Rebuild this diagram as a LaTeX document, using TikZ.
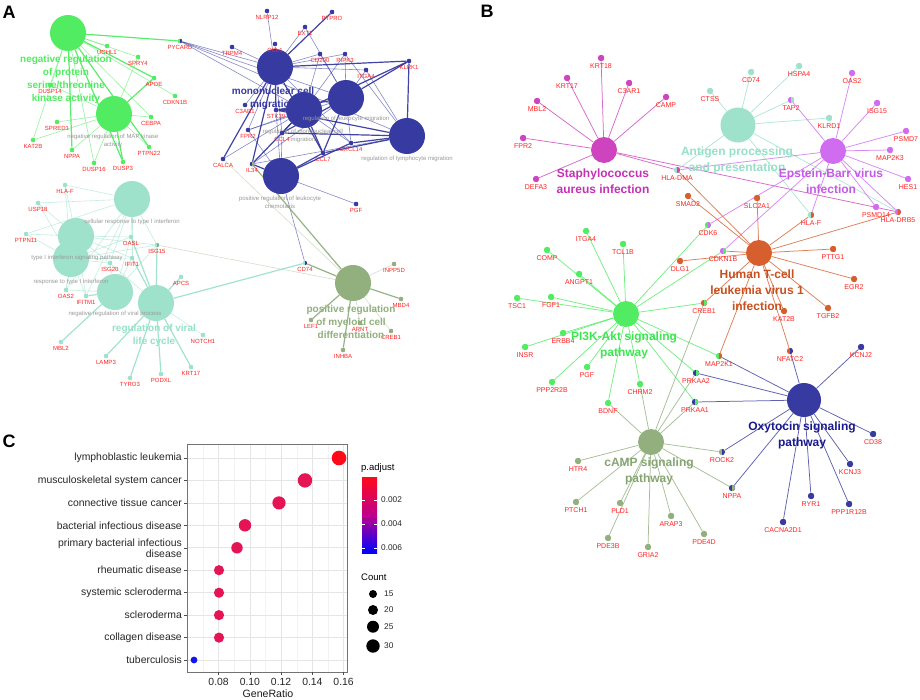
\documentclass[tikz,border=0pt]{standalone}
\usepackage{fontspec}
\setmainfont{Liberation Sans}
\definecolor{cgr}{RGB}{82,236,98}
\definecolor{cnv}{RGB}{55,58,160}
\definecolor{ctl}{RGB}{158,226,204}
\definecolor{col}{RGB}{145,176,125}
\definecolor{cmg}{RGB}{206,68,190}
\definecolor{cpu}{RGB}{207,108,240}
\definecolor{cor}{RGB}{214,95,45}
\definecolor{cred}{RGB}{255,35,35}
\definecolor{tmg}{RGB}{195,50,180}
\definecolor{tpu}{RGB}{196,90,230}
\definecolor{tor}{RGB}{200,80,30}
\definecolor{tnv}{RGB}{25,25,140}
\definecolor{tgr}{RGB}{60,230,80}
\definecolor{tol}{RGB}{135,165,115}
\definecolor{ttl}{RGB}{150,225,200}
\definecolor{pred}{RGB}{255,10,25}
\definecolor{pcr}{RGB}{228,20,85}
\definecolor{pbl}{RGB}{20,20,240}
\definecolor{pmid}{RGB}{190,0,140}
\pgfdeclarelayer{edges}
\pgfsetlayers{edges,main}
\newcommand\ga[6]{\node[dotA={#4}{#5},label={[labA]below:#6}] (#1) at (#2,#3) {};}
\newcommand\gb[6]{\node[dotB={#4}{#5},label={[labB]below:#6}] (#1) at (#2,#3) {};}
\newcommand\fan[3]{\foreach \tg in {#3}{\draw[#1] (#2) -- (\tg);}}
\tikzset{
  dotA/.style 2 args={circle,inner sep=0pt,minimum size=4.6pt,fill=#1,
    path picture={\fill[#2] (path picture bounding box.south) rectangle (path picture bounding box.north east);}},
  dotB/.style 2 args={circle,inner sep=0pt,minimum size=6.4pt,fill=#1,
    path picture={\fill[#2] (path picture bounding box.south) rectangle (path picture bounding box.north east);}},
  labA/.style={font=\fontsize{6}{6}\selectfont,text=cred,inner sep=0.3pt,label distance=1.2pt},
  labB/.style={font=\fontsize{7}{7}\selectfont,text=cred,inner sep=0.3pt,label distance=1.6pt},
  catA/.style={circle,inner sep=0pt,minimum size=36pt,fill=#1},
  catB/.style={circle,inner sep=0pt,minimum size=26pt,fill=#1},
  btA/.style={font=\bfseries\fontsize{10}{13}\selectfont,text=#1,align=center,inner sep=0pt},
  btB/.style={font=\bfseries\fontsize{12}{16}\selectfont,text=#1,align=center,inner sep=0pt},
  glab/.style={font=\fontsize{6}{8}\selectfont,text=black!40,align=center,inner sep=0pt},
  ed/.style={draw=#1,line width=0.6pt,draw opacity=0.6},
  edt/.style={draw=#1,line width=1.2pt,draw opacity=0.95},
  edl/.style={draw=#1,line width=0.6pt,draw opacity=0.4},
  eb/.style={draw=#1,line width=0.75pt,draw opacity=0.8},
  ylab/.style={anchor=east,font=\fontsize{10.4}{11}\selectfont,text=black!85,align=right,inner sep=0pt},
  plet/.style={font=\bfseries\fontsize{18}{18}\selectfont,inner sep=0pt}
}
\begin{document}
\begin{tikzpicture}[x=1pt,y=-1pt]
\begin{pgfonlayer}{edges}
\fill[white] (0,0) rectangle (920,699);
\end{pgfonlayer}
\useasboundingbox (0,0) rectangle (920,699);

% ================= Panel A =================
\node[plet] (letA) at (9,12) {A};
\node[catA=cgr] (aG1) at (68,33) {};
\node[catA=cgr] (aG2) at (114,114) {};
\node[catA=cnv] (aB1) at (275,67) {};
\node[catA=cnv] (aB2) at (346,98) {};
\node[catA=cnv] (aB3) at (304,110) {};
\node[catA=cnv] (aB4) at (407,136) {};
\node[catA=cnv] (aB5) at (281,176) {};
\node[catA=ctl] (aT1) at (132,199) {};
\node[catA=ctl] (aT2) at (76,236) {};
\node[catA=ctl] (aT3) at (71,259) {};
\node[catA=ctl] (aT4) at (115,292) {};
\node[catA=ctl] (aT5) at (156,303) {};
\node[catA=col] (aO1) at (353,283) {};

\node[glab] (gl1) at (113,141) {negative regulation of MAP kinase\\activity};
\node[glab] (gl2) at (346,119) {regulation of leukocyte migration};
\node[glab] (gl3) at (303,135.5) {regulation of mononuclear cell\\migration};
\node[glab] (gl4) at (407,159) {regulation of lymphocyte migration};
\node[glab] (gl5) at (280,202) {positive regulation of leukocyte\\chemotaxis};
\node[glab] (gl6) at (132,222) {cellular response to type I interferon};
\node[glab] (gl7) at (77,258) {type I interferon signaling pathway};
\node[glab] (gl8) at (71,282) {response to type I interferon};
\node[glab] (gl9) at (115,314) {negative regulation of viral process};

\ga{aUCHL1}{107}{46}{cgr}{cgr}{UCHL1}
\ga{aSPRY4}{138}{57}{cgr}{cgr}{SPRY4}
\ga{aAPOE}{154}{78}{cgr}{cgr}{APOE}
\ga{aCDKN1B}{175}{96}{cgr}{cgr}{CDKN1B}
\ga{aCEBPA}{151}{117}{cgr}{cgr}{CEBPA}
\ga{aDUSP14}{50}{85}{cgr}{cgr}{DUSP14}
\ga{aSPRED1}{57}{122}{cgr}{cgr}{SPRED1}
\ga{aKAT2B}{33}{140}{cgr}{cgr}{KAT2B}
\ga{aNPPA}{72}{150}{cgr}{cgr}{NPPA}
\ga{aDUSP16}{94}{163}{cgr}{cgr}{DUSP16}
\ga{aDUSP3}{123}{162}{cgr}{cgr}{DUSP3}
\ga{aPTPN22}{149}{147}{cgr}{cgr}{PTPN22}
\ga{aPYCARD}{180}{41}{cgr}{cnv}{PYCARD}
\ga{aNLRP12}{267}{11}{cnv}{cnv}{NLRP12}
\ga{aPTPRO}{332}{12}{cnv}{cnv}{PTPRO}
\ga{aEXT1}{305}{27}{cnv}{cnv}{EXT1}
\ga{aTRPM4}{232}{47}{cnv}{cnv}{TRPM4}
\ga{aCCL1}{275}{44}{cnv}{cnv}{CCL1}
\ga{aCD200}{320}{54}{cnv}{cnv}{CD200}
\ga{aRIPK3}{345}{54}{cnv}{cnv}{RIPK3}
\ga{aKLRK1}{409}{61}{cnv}{cnv}{KLRK1}
\ga{aITGA4}{366}{70}{cnv}{cnv}{ITGA4}
\ga{aC3AR1}{245}{105}{cnv}{cnv}{C3AR1}
\ga{aSTK39}{276}{110}{cnv}{cnv}{STK39}
\ga{aFPR2}{248}{130}{cnv}{cnv}{FPR2}
\ga{aCCL4}{282}{133}{cnv}{cnv}{CCL4}
\ga{aCXCL14}{351}{143}{cnv}{cnv}{CXCL14}
\ga{aCCL7}{323}{153}{cnv}{cnv}{CCL7}
\ga{aCALCA}{223}{159}{cnv}{cnv}{CALCA}
\ga{aIL34}{252}{164}{cnv}{col}{IL34}
\ga{aPGF}{356}{204}{cnv}{cnv}{PGF}
\ga{aCD74}{305}{263}{ctl}{cnv}{CD74}
\ga{aHLAF}{65}{185}{ctl}{ctl}{HLA-F}
\ga{aUSP18}{38}{203}{ctl}{ctl}{USP18}
\ga{aPTPN11}{26}{234}{ctl}{ctl}{PTPN11}
\ga{aOASL}{131}{237}{ctl}{ctl}{OASL}
\ga{aISG15}{157}{245}{ctl}{col}{ISG15}
\ga{aIFIT1}{132}{258}{ctl}{ctl}{IFIT1}
\ga{aISG20}{110}{263}{ctl}{ctl}{ISG20}
\ga{aAPCS}{181}{277}{ctl}{ctl}{APCS}
\ga{aOAS2}{66}{290}{ctl}{ctl}{OAS2}
\ga{aIFITM1}{86}{296}{ctl}{ctl}{IFITM1}
\ga{aMBL2}{61}{342}{ctl}{ctl}{MBL2}
\ga{aLAMP3}{106}{356}{ctl}{ctl}{LAMP3}
\ga{aTYRO3}{130}{378}{ctl}{ctl}{TYRO3}
\ga{aPODXL}{161}{374}{ctl}{ctl}{PODXL}
\ga{aKRT17}{191}{367}{ctl}{ctl}{KRT17}
\ga{aNOTCH1}{203}{335}{ctl}{ctl}{NOTCH1}
\ga{aINPP5D}{394}{264}{col}{col}{INPP5D}
\ga{aMBD4}{401}{299}{col}{col}{MBD4}
\ga{aLEF1}{311}{320}{col}{col}{LEF1}
\ga{aARNT}{360}{323}{col}{col}{ARNT}
\ga{aCREB1}{391}{331}{col}{col}{CREB1}
\ga{aINHBA}{343}{350}{col}{col}{INHBA}

\node[btA=cgr] (aG1t) at (66,79.5) {negative regulation\\of protein\\serine/threonine\\kinase activity};
\node[btA=cnv] (aB1t) at (273,98.5) {mononuclear cell\\migration};
\node[btA=ttl] (aT5t) at (154,335.5) {regulation of viral\\life cycle};
\node[btA=col] (aO1t) at (351,322) {positive regulation\\of myeloid cell\\differentiation};

\begin{pgfonlayer}{edges}
\fan{edt=cgr}{aG1}{aPYCARD,aAPOE,aNPPA,aPTPN22,aDUSP3}
\fan{ed=cgr}{aG1}{aUCHL1,aSPRY4,aCDKN1B,aCEBPA,aDUSP16,aKAT2B,aDUSP14}
\fan{edt=cgr}{aG2}{aAPOE,aDUSP3}
\fan{ed=cgr}{aG2}{aSPRY4,aSPRED1,aDUSP14,aKAT2B,aNPPA,aDUSP16,aPTPN22,aCEBPA}
\fan{ed=cnv}{aB1}{aPYCARD,aNLRP12,aEXT1,aTRPM4,aCCL1,aCD200,aRIPK3,aITGA4,aC3AR1,aFPR2,aCCL4,aCXCL14}
\fan{edt=cnv}{aB1}{aPTPRO,aKLRK1,aCALCA,aIL34,aSTK39,aCCL7}
\fan{ed=cnv}{aB2}{aPYCARD,aEXT1,aCD200,aRIPK3,aITGA4,aFPR2,aCXCL14,aIL34}
\fan{edt=cnv}{aB2}{aKLRK1,aSTK39,aCCL7,aCCL4}
\fan{ed=cnv}{aB3}{aPYCARD,aCD200,aRIPK3,aFPR2,aCXCL14,aCALCA}
\fan{edt=cnv}{aB3}{aKLRK1,aSTK39,aCCL4,aCCL7,aIL34}
\fan{ed=cnv}{aB4}{aPYCARD,aRIPK3,aITGA4,aIL34}
\fan{edt=cnv}{aB4}{aKLRK1,aSTK39,aCCL4,aCCL7,aCXCL14}
\fan{ed=cnv}{aB5}{aFPR2,aCCL4,aPGF,aCD74,aSTK39}
\fan{edt=cnv}{aB5}{aCCL7,aCXCL14,aIL34}
\fan{edt=col}{aO1}{aIL34,aCD74,aMBD4,aLEF1,aINHBA}
\fan{edl=col}{aO1}{aCALCA,aISG15,aINPP5D,aARNT,aCREB1}
\fan{edt=ctl}{aT5}{aCD74,aAPCS,aKRT17,aPODXL,aTYRO3,aLAMP3,aIFIT1,aOASL,aISG15}
\fan{ed=ctl}{aT5}{aNOTCH1,aISG20}
\fan{edt=ctl}{aT4}{aMBL2,aIFITM1}
\fan{ed=ctl}{aT4}{aOAS2,aISG20,aIFIT1,aOASL,aISG15}
\fan{ed=ctl}{aT1}{aHLAF,aUSP18,aPTPN11,aOASL,aISG15,aIFIT1,aISG20,aOAS2,aIFITM1}
\fan{ed=ctl}{aT2}{aHLAF,aUSP18,aPTPN11,aOASL,aISG15,aIFIT1,aISG20,aOAS2,aIFITM1}
\fan{ed=ctl}{aT3}{aHLAF,aUSP18,aPTPN11,aOASL,aISG15,aIFIT1,aISG20,aOAS2,aIFITM1}
\end{pgfonlayer}

% ================= Panel B =================
\node[plet] (letB) at (487,11) {B};
\node[catB=cmg] (bS) at (604,150) {};
\node[circle,inner sep=0pt,minimum size=35pt,fill=ctl] (bA) at (738,125) {};
\node[catB=cpu] (bE) at (833,151) {};
\node[catB=cgr] (bP) at (626,314) {};
\node[catB=cor] (bH) at (759,253) {};
\node[circle,inner sep=0pt,minimum size=34pt,fill=cnv] (bX) at (804,400) {};
\node[catB=col] (bM) at (651,442) {};

\gb{bKRT18}{601}{58}{cmg}{cmg}{KRT18}
\gb{bKRT17}{567}{78}{cmg}{cmg}{KRT17}
\gb{bC3AR1}{629}{83}{cmg}{cmg}{C3AR1}
\gb{bMBL2}{537}{101}{cmg}{cmg}{MBL2}
\gb{bCAMP}{666}{97}{cmg}{cmg}{CAMP}
\gb{bFPR2}{523}{138}{cmg}{cmg}{FPR2}
\gb{bDEFA3}{536}{179}{cmg}{cmg}{DEFA3}
\gb{bHLADMA}{677}{170}{ctl}{cmg}{HLA-DMA}
\gb{bCTSS}{710}{91}{ctl}{ctl}{CTSS}
\gb{bCD74}{751}{72}{ctl}{ctl}{CD74}
\gb{bHSPA4}{799}{66}{ctl}{ctl}{HSPA4}
\gb{bKLRD1}{829}{118}{ctl}{ctl}{KLRD1}
\gb{bTAP2}{791}{100}{cpu}{ctl}{TAP2}
\gb{bOAS2}{852}{73}{cpu}{cpu}{OAS2}
\gb{bISG15}{877}{103}{cpu}{cpu}{ISG15}
\gb{bPSMD7}{906}{131}{cpu}{cpu}{PSMD7}
\gb{bMAP2K3}{890}{150}{cpu}{cpu}{MAP2K3}
\gb{bHES1}{908}{179}{cpu}{cpu}{HES1}
\gb{bPSMD14}{876}{207}{cpu}{cpu}{PSMD14}
\gb{bHLADRB5}{898}{212}{cpu}{cor}{HLA-DRB5}
\gb{bHLAF}{811}{215}{ctl}{cor}{HLA-F}
\gb{bSLC2A1}{757}{198}{cor}{cor}{SLC2A1}
\gb{bSMAD2}{688}{196}{cor}{cor}{SMAD2}
\gb{bCDK6}{708}{225}{cgr}{cpu}{CDK6}
\gb{bCDKN1B}{723}{251}{cpu}{cgr}{CDKN1B}
\gb{bDLG1}{680}{261}{cor}{cor}{DLG1}
\gb{bPTTG1}{833}{249}{cor}{cor}{PTTG1}
\gb{bEGR2}{854}{279}{cor}{cor}{EGR2}
\gb{bTGFB2}{828}{308}{cor}{cor}{TGFB2}
\gb{bKAT2B}{784}{311}{cor}{cor}{KAT2B}
\gb{bNFATC2}{790}{351}{cor}{cnv}{NFATC2}
\gb{bMAP2K1}{719}{356}{cgr}{cor}{MAP2K1}
\gb{bCREB1}{704}{303}{cor}{cgr}{CREB1}
\gb{bITGA4}{586}{231}{cgr}{cgr}{ITGA4}
\gb{bTCL1B}{623}{244}{cgr}{cgr}{TCL1B}
\gb{bCOMP}{547}{250}{cgr}{cgr}{COMP}
\gb{bANGPT1}{579}{274}{cgr}{cgr}{ANGPT1}
\gb{bTSC1}{517}{298}{cgr}{cgr}{TSC1}
\gb{bFGF1}{551}{297}{cgr}{cgr}{FGF1}
\gb{bERBB4}{563}{333}{cgr}{cgr}{ERBB4}
\gb{bINSR}{525}{347}{cgr}{cgr}{INSR}
\gb{bPGF}{587}{367}{cgr}{cgr}{PGF}
\gb{bPPP2R2B}{552}{382}{cgr}{cgr}{PPP2R2B}
\gb{bCHRM2}{640}{384}{cgr}{cgr}{CHRM2}
\gb{bBDNF}{608}{403}{cgr}{cgr}{BDNF}
\gb{bPRKAA2}{696}{373}{cnv}{cgr}{PRKAA2}
\gb{bPRKAA1}{695}{402}{cnv}{cgr}{PRKAA1}
\gb{bKCNJ2}{861}{347}{cnv}{cnv}{KCNJ2}
\gb{bCD38}{873}{434}{cnv}{cnv}{CD38}
\gb{bKCNJ3}{850}{464}{cnv}{cnv}{KCNJ3}
\gb{bPPP1R12B}{849}{504}{cnv}{cnv}{PPP1R12B}
\gb{bRYR1}{811}{496}{cnv}{cnv}{RYR1}
\gb{bCACNA2D1}{783}{522}{cnv}{cnv}{CACNA2D1}
\gb{bROCK2}{722}{452}{col}{cnv}{ROCK2}
\gb{bNPPA}{732}{488}{cnv}{col}{NPPA}
\gb{bHTR4}{578}{461}{col}{col}{HTR4}
\gb{bPTCH1}{576}{502}{col}{col}{PTCH1}
\gb{bPLD1}{620}{503}{col}{col}{PLD1}
\gb{bPDE3B}{608}{538}{col}{col}{PDE3B}
\gb{bGRIA2}{648}{547}{col}{col}{GRIA2}
\gb{bARAP3}{671}{516}{col}{col}{ARAP3}
\gb{bPDE4D}{704}{534}{col}{col}{PDE4D}

\node[btB=tmg] (bSt) at (603,181) {Staphylococcus\\aureus infection};
\node[btB=ttl] (bAt) at (737,160) {Antigen processing\\and presentation};
\node[btB=tpu] (bEt) at (831,181) {Epstein-Barr virus\\infection};
\node[btB=tgr] (bPt) at (624,345) {PI3K-Akt signaling\\pathway};
\node[btB=tor] (bHt) at (757,290.5) {Human T-cell\\leukemia virus 1\\infection};
\node[btB=tnv] (bXt) at (802,435) {Oxytocin signaling\\pathway};
\node[btB=tol] (bMt) at (649,471.5) {cAMP signaling\\pathway};

\begin{pgfonlayer}{edges}
\fan{eb=cmg}{bS}{bKRT18,bKRT17,bC3AR1,bMBL2,bCAMP,bFPR2,bDEFA3,bHLADMA,bHLADRB5}
\fan{eb=ctl}{bA}{bCTSS,bCD74,bHSPA4,bTAP2,bKLRD1,bHLADMA,bHLAF,bHLADRB5}
\fan{eb=cpu}{bE}{bOAS2,bISG15,bPSMD7,bMAP2K3,bHES1,bPSMD14,bHLADRB5,bHLAF,bTAP2,bHLADMA,bCDK6,bCDKN1B}
\fan{eb=cor}{bH}{bSMAD2,bSLC2A1,bHLAF,bHLADRB5,bHLADMA,bPTTG1,bEGR2,bTGFB2,bKAT2B,bNFATC2,bMAP2K1,bCREB1,bCDKN1B,bDLG1}
\fan{eb=cgr}{bP}{bITGA4,bTCL1B,bCOMP,bANGPT1,bTSC1,bFGF1,bERBB4,bINSR,bPGF,bPPP2R2B,bCHRM2,bBDNF,bPRKAA2,bPRKAA1,bMAP2K1,bCREB1,bCDK6,bCDKN1B}
\fan{eb=col}{bM}{bHTR4,bPTCH1,bPLD1,bPDE3B,bGRIA2,bARAP3,bPDE4D,bNPPA,bROCK2,bBDNF,bCHRM2,bPRKAA2,bPRKAA1,bCREB1}
\fan{eb=cnv}{bX}{bMAP2K1,bPRKAA2,bPRKAA1,bNFATC2,bKCNJ2,bCD38,bKCNJ3,bPPP1R12B,bRYR1,bCACNA2D1,bNPPA,bROCK2}
\end{pgfonlayer}

% ================= Panel C =================
\node[plet] (letC) at (9,441) {C};
\foreach \gx in {203,234.2,265.5,296.8,328.0}
  \draw[black!5,line width=0.4pt] (\gx,444) -- (\gx,672);
\foreach \gx in {218.6,249.9,281.1,312.4,343.6}
  \draw[black!10,line width=0.7pt] (\gx,444) -- (\gx,672);
\foreach \gy in {458,480.4,502.9,525.3,547.8,570.2,592.7,615.1,637.6,660}{
  \draw[black!10,line width=0.7pt] (187,\gy) -- (347,\gy);
  \draw[black!70,line width=0.5pt] (184,\gy) -- (187,\gy);
}
\node[circle,inner sep=0pt,minimum size=14.6pt,fill=pred] (cd1) at (339,458) {};
\node[circle,inner sep=0pt,minimum size=14.4pt,fill=pcr] (cd2) at (305,480.4) {};
\node[circle,inner sep=0pt,minimum size=13.2pt,fill=pcr] (cd3) at (279,502.9) {};
\node[circle,inner sep=0pt,minimum size=12.4pt,fill=pcr] (cd4) at (245,525.3) {};
\node[circle,inner sep=0pt,minimum size=11.4pt,fill=pcr] (cd5) at (237,547.8) {};
\node[circle,inner sep=0pt,minimum size=10.2pt,fill=pcr] (cd6) at (219,570.2) {};
\node[circle,inner sep=0pt,minimum size=10.2pt,fill=pcr] (cd7) at (219,592.7) {};
\node[circle,inner sep=0pt,minimum size=10.2pt,fill=pcr] (cd8) at (219,615.1) {};
\node[circle,inner sep=0pt,minimum size=10.2pt,fill=pcr] (cd9) at (219,637.6) {};
\node[circle,inner sep=0pt,minimum size=6.8pt,fill=pbl] (cd10) at (194,660) {};
\draw[black!55,line width=0.7pt] (187,444) rectangle (347,672);
\foreach \gy/\txt in {458/lymphoblastic leukemia,480.4/musculoskeletal system cancer,502.9/connective tissue cancer,525.3/bacterial infectious disease,547.8/{primary bacterial infectious\\disease},570.2/rheumatic disease,592.7/systemic scleroderma,615.1/scleroderma,637.6/collagen disease,660/tuberculosis}
  \node[ylab] at (182,\gy) {\txt};
\foreach \gx/\txt in {218.6/0.08,249.9/0.10,281.1/0.12,312.4/0.14,343.6/0.16}{
  \draw[black!70,line width=0.5pt] (\gx,672) -- (\gx,675);
  \node[font=\fontsize{10.4}{11}\selectfont,text=black!85,inner sep=0pt] at (\gx,682) {\txt};
}
\node[font=\fontsize{10.6}{11}\selectfont,text=black!90,inner sep=0pt] (xlab) at (268,693.5) {GeneRatio};
% legend
\node[anchor=west,font=\fontsize{9.5}{10}\selectfont,inner sep=0pt] (legp) at (361,468) {p.adjust};
\shade[top color=pred,bottom color=blue,middle color=pmid] (362,477) rectangle (377,553);
\foreach \gy/\txt in {500/0.002,524/0.004,548/0.006}{
  \draw[white,line width=0.6pt] (362,\gy) -- (365,\gy) (374,\gy) -- (377,\gy);
  \node[anchor=west,font=\fontsize{8.3}{9}\selectfont,text=black!85,inner sep=0pt] at (381,\gy) {\txt};
}
\node[anchor=west,font=\fontsize{9.5}{10}\selectfont,inner sep=0pt] (legc) at (361,577) {Count};
\foreach \gy/\gr/\txt in {594/8/15,610/10/20,626.7/12/25,646/13.4/30}{
  \node[circle,inner sep=0pt,minimum size=\gr pt,fill=black] at (373,\gy) {};
  \node[anchor=west,font=\fontsize{8.3}{9}\selectfont,text=black!85,inner sep=0pt] at (384,\gy) {\txt};
}
\end{tikzpicture}
\end{document}
